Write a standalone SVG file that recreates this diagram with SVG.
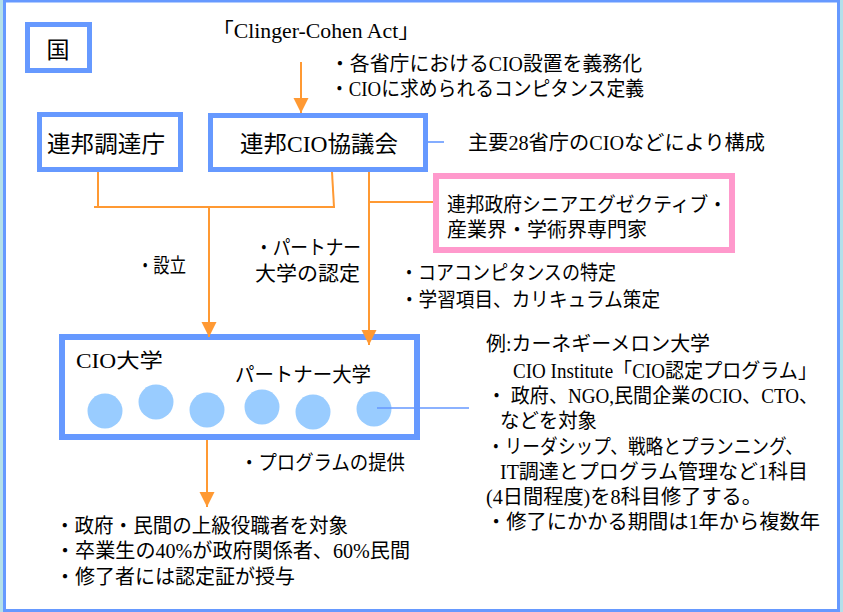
<svg xmlns="http://www.w3.org/2000/svg" width="843" height="612" viewBox="0 0 843 612">
<style>
.box{fill:#fff;stroke:#6699ff;stroke-width:5}
.pink{fill:#fff;stroke:#ff99cc;stroke-width:6}
.t{font-family:'Liberation Serif','Noto Sans CJK JP',serif;fill:#000;font-size:20px}
.big{font-size:23px}
.or{stroke:#ff9933;stroke-width:2;fill:none}
.bl{stroke:#6699ff;stroke-width:1.6;fill:none}
.dot{fill:#99ccff}
</style>
<defs>
<marker id="ah" markerUnits="userSpaceOnUse" markerWidth="16" markerHeight="16" refX="15" refY="7.5" orient="auto">
<path d="M0,0 L15,7.5 L0,15 z" fill="#ff9933"/>
</marker>
</defs>
<rect x="0" y="0" width="843" height="612" fill="#b4e0ea"/>
<rect x="4.5" y="1" width="834" height="609.5" fill="#fff" stroke="#6699ff" stroke-width="3"/>

<g id="kuni">
<rect class="box" x="27.5" y="24.5" width="62" height="46"/>
<text class="t big" x="58" y="58" text-anchor="middle">国</text>
</g>

<g id="act-label">
<text class="t" x="212" y="38" textLength="208" lengthAdjust="spacingAndGlyphs">「Clinger-Cohen Act」</text>
<text class="t" x="330" y="71" textLength="312" lengthAdjust="spacingAndGlyphs">・各省庁におけるCIO設置を義務化</text>
<text class="t" x="330" y="96" textLength="314" lengthAdjust="spacingAndGlyphs">・CIOに求められるコンピタンス定義</text>
</g>

<g id="gsa">
<rect class="box" x="39.5" y="114.5" width="141" height="55"/>
<text class="t big" x="47" y="152" textLength="118" lengthAdjust="spacingAndGlyphs">連邦調達庁</text>
</g>

<g id="cio-council">
<rect class="box" x="210.5" y="115.5" width="215" height="54"/>
<text class="t big" x="240" y="152" textLength="158" lengthAdjust="spacingAndGlyphs">連邦CIO協議会</text>
</g>

<g id="council-note">
<text class="t" x="468" y="149.5" textLength="297" lengthAdjust="spacingAndGlyphs">主要28省庁のCIOなどにより構成</text>
</g>

<g id="experts">
<rect class="pink" x="436" y="176" width="296" height="74"/>
<text class="t" x="447" y="212" textLength="280" lengthAdjust="spacingAndGlyphs">連邦政府シニアエグゼクティブ・</text>
<text class="t" x="447" y="237" textLength="200" lengthAdjust="spacingAndGlyphs">産業界・学術界専門家</text>
</g>

<g id="labels-mid">
<text class="t" x="137" y="273" textLength="49" lengthAdjust="spacingAndGlyphs">・設立</text>
<text class="t" x="255" y="255" textLength="106" lengthAdjust="spacingAndGlyphs">・パートナー</text>
<text class="t" x="255" y="281" textLength="105" lengthAdjust="spacingAndGlyphs">大学の認定</text>
<text class="t" x="400" y="280" textLength="216" lengthAdjust="spacingAndGlyphs">・コアコンピタンスの特定</text>
<text class="t" x="400" y="307" textLength="260" lengthAdjust="spacingAndGlyphs">・学習項目、カリキュラム策定</text>
</g>

<g id="cio-univ">
<rect x="62" y="337" width="355" height="100" fill="#fff" stroke="#6699ff" stroke-width="6"/>
<text class="t" x="76" y="368" font-size="22" textLength="87" lengthAdjust="spacingAndGlyphs">CIO大学</text>
<text class="t" x="235" y="382" textLength="136" lengthAdjust="spacingAndGlyphs">パートナー大学</text>
<circle class="dot" cx="105" cy="411" r="17.5"/>
<circle class="dot" cx="156" cy="402" r="17.5"/>
<circle class="dot" cx="207" cy="410" r="17.5"/>
<circle class="dot" cx="262" cy="407" r="17.5"/>
<circle class="dot" cx="313" cy="412" r="17.5"/>
<circle class="dot" cx="374" cy="409" r="17.5"/>
</g>

<g id="example">
<text class="t" x="486" y="351" textLength="224" lengthAdjust="spacingAndGlyphs">例:カーネギーメロン大学</text>
<text class="t" x="513" y="378" textLength="304" lengthAdjust="spacingAndGlyphs">CIO Institute「CIO認定プログラム」</text>
<text class="t" x="487" y="403" textLength="331" lengthAdjust="spacingAndGlyphs">・ 政府、NGO,民間企業のCIO、CTO、</text>
<text class="t" x="500" y="428" textLength="97" lengthAdjust="spacingAndGlyphs">などを対象</text>
<text class="t" x="487" y="454" textLength="316" lengthAdjust="spacingAndGlyphs">・リーダシップ、戦略とプランニング、</text>
<text class="t" x="500" y="479" textLength="308" lengthAdjust="spacingAndGlyphs">IT調達とプログラム管理など1科目</text>
<text class="t" x="486" y="504" textLength="276" lengthAdjust="spacingAndGlyphs">(4日間程度)を8科目修了する。</text>
<text class="t" x="486" y="529" textLength="334" lengthAdjust="spacingAndGlyphs">・修了にかかる期間は1年から複数年</text>
</g>

<g id="program-label">
<text class="t" x="240" y="470" textLength="165" lengthAdjust="spacingAndGlyphs">・プログラムの提供</text>
</g>

<g id="outcome">
<text class="t" x="55" y="533" textLength="293" lengthAdjust="spacingAndGlyphs">・政府・民間の上級役職者を対象</text>
<text class="t" x="55" y="558" textLength="355" lengthAdjust="spacingAndGlyphs">・卒業生の40%が政府関係者、60%民間</text>
<text class="t" x="55" y="584" textLength="240" lengthAdjust="spacingAndGlyphs">・修了者には認定証が授与</text>
</g>

<g id="connectors">
<line class="or" x1="301" y1="62" x2="301" y2="113" marker-end="url(#ah)"/>
<line class="or" x1="98" y1="172" x2="98" y2="207"/>
<line class="or" x1="332" y1="172" x2="334" y2="207"/>
<line class="or" x1="94" y1="207" x2="335" y2="207"/>
<line class="or" x1="209" y1="207" x2="209" y2="337" marker-end="url(#ah)"/>
<line class="or" x1="369" y1="172" x2="369" y2="345" marker-end="url(#ah)"/>
<line class="or" x1="369" y1="202" x2="433" y2="202"/>
<line class="or" x1="207" y1="440" x2="207" y2="507" marker-end="url(#ah)"/>
<line class="bl" x1="428" y1="142" x2="444" y2="142"/>
<line class="bl" x1="377" y1="408" x2="469" y2="408"/>
</g>
</svg>
